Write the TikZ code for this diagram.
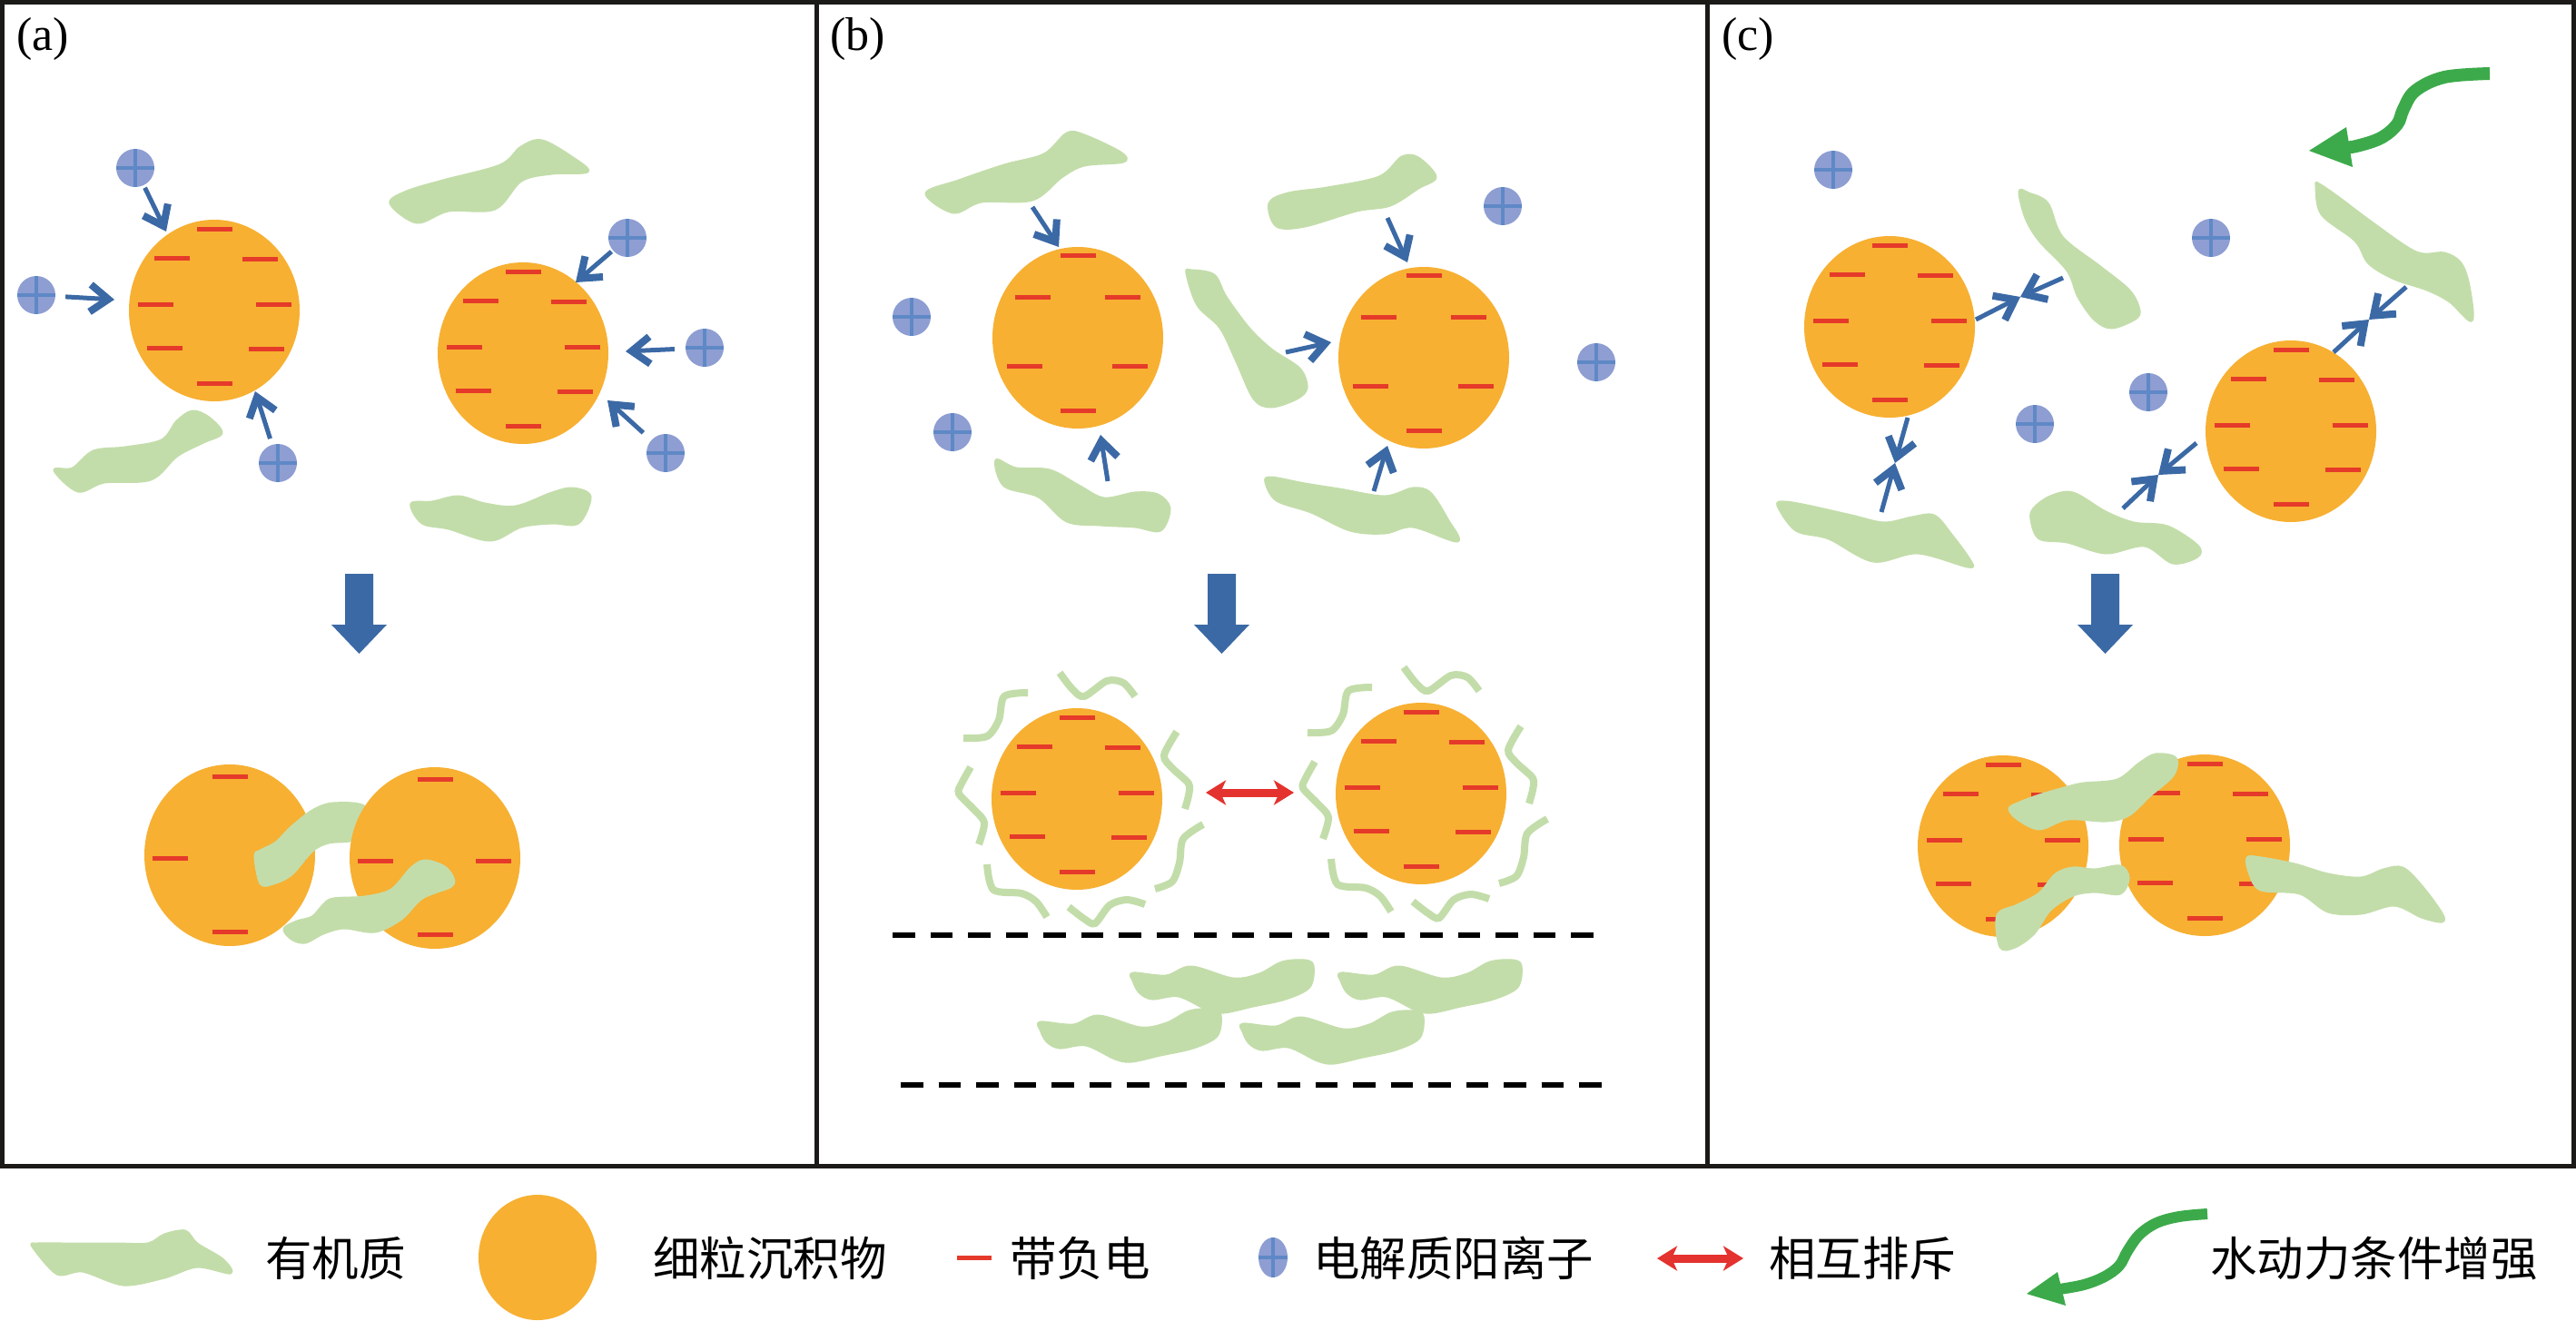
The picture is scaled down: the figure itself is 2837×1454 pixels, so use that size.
\documentclass[tikz,border=0pt]{standalone}
\usepackage{fontspec}
\setmainfont{Liberation Serif}
\newfontfamily\cjk{Noto Sans CJK SC}
\usetikzlibrary{arrows.meta,shapes.geometric}
\definecolor{orng}{HTML}{F7B032}
\definecolor{dashred}{HTML}{E53A2A}
\definecolor{orgreen}{HTML}{C3DDAA}
\definecolor{ionfill}{HTML}{8E9ED2}
\definecolor{ioncross}{HTML}{5F88C6}
\definecolor{arrblue}{HTML}{3B69A5}
\definecolor{flowgreen}{HTML}{3CAA4A}
\definecolor{repred}{HTML}{E4322E}
\definecolor{framec}{HTML}{1C1A18}
\tikzset{
  grain/.style={ellipse, fill=orng, minimum width=188pt, minimum height=200pt, inner sep=0pt},
  chg/.style={draw=dashred, line width=5pt},
  org/.style={fill=orgreen, draw=orgreen, line width=3pt, line join=round},
  wav/.style={draw=orgreen, line width=8pt},
  ion/.style={ellipse, fill=ionfill, minimum width=42pt, minimum height=42pt, inner sep=0pt,
    path picture={\draw[ioncross, line width=4pt]
      (path picture bounding box.north) -- (path picture bounding box.south)
      (path picture bounding box.west) -- (path picture bounding box.east);}},
  attract/.style={draw=arrblue, line width=5pt, -{Straight Barb[length=20pt,width=30pt,line width=8pt]}},
  repel/.style={draw=repred, line width=9pt, {Stealth[length=22pt,width=27pt,inset=6pt]}-{Stealth[length=22pt,width=27pt,inset=6pt]}},
  flow/.style={draw=flowgreen, line width=14pt},
  frame/.style={draw=framec, line width=5pt},
  sepline/.style={draw=black, line width=6pt, dash pattern=on 24.5pt off 17pt},
  panellabel/.style={anchor=west, inner sep=0pt, font=\fontsize{52}{52}\selectfont},
  legtext/.style={anchor=west, inner sep=0pt, font=\cjk\fontsize{51.5}{52}\selectfont}
}
\def\eightpos{0/-90,-47/-58,50/-57,-65/-7,65/-7,-55/41,57/42,0/80}
\def\sixpos{0/-91,-50/-45,49/-45,-59/31,57/31,0/80}
\def\fourpos{0/-87,-66/3,64/3,0/84}
\newcommand{\charges}[2]{\begin{scope}[shift={(#1)}]
  \foreach \dx/\dy in #2 {\draw[chg] (\dx-19.5,\dy) -- ++(39,0);}
\end{scope}}
\newcommand{\bigdown}[1]{\fill[arrblue] (#1-15.5,632) -- (#1+15.5,632) -- (#1+15.5,688) -- (#1+30.5,688)
  -- (#1,720) -- (#1-30.5,688) -- (#1-15.5,688) -- cycle;}
\newcommand{\wavyset}[1]{\begin{scope}[shift={(#1)}]
  \draw[wav] plot[smooth] coordinates {(-125,-67) (-99,-69) (-86,-87) (-80,-113) (-54,-117)};
  \draw[wav] plot[smooth] coordinates {(-19,-139) (-5,-121) (8,-113) (33,-130) (51,-128) (64,-113)};
  \draw[wav] plot[smooth] coordinates {(110,-74) (96,-48) (105,-34) (123,-17) (123,-4) (119,11)};
  \draw[wav] plot[smooth] coordinates {(-117,-35) (-127,-17) (-130,-6) (-114,11) (-102,26) (-108,50)};
  \draw[wav] plot[smooth] coordinates {(139,28) (117,44) (113,70) (105,91) (86,99)};
  \draw[wav] plot[smooth] coordinates {(-99,72) (-92,100) (-61,104) (-45,113) (-33,130)};
  \draw[wav] plot[smooth] coordinates {(-9,119) (8,132) (20,137) (36,117) (55,111) (75,116)};
\end{scope}}
\newcommand{\flatblob}[1]{\begin{scope}[shift={(#1)}]
  \fill[org] plot[smooth cycle, tension=0.55] coordinates {(2,14) (38,17) (66,7) (112,20) (141,15) (166,2) (191,0) (200,6) (196,29) (170,42) (134,50) (102,57) (84,54) (52,39) (23,42) (9,35) (2,22)};
\end{scope}}
\begin{document}
\begin{tikzpicture}[x=1pt, y=-1pt]
\useasboundingbox (0,0) rectangle (2837,1454);
\fill[white] (0,0) rectangle (2837,1454);

% ---------------- frames
\draw[frame] (2.5,2.5) rectangle (2834.5,1284);
\draw[frame] (899,2.5) -- (899,1284);
\draw[frame] (1880,2.5) -- (1880,1284);
\node[panellabel] (la) at (18,43) {(a)};
\node[panellabel] (lb) at (914,43) {(b)};
\node[panellabel] (lc) at (1896,43) {(c)};

% ================= panel (a)
\fill[org] plot[smooth cycle, tension=0.55] coordinates {(430,224) (459,245) (494,232) (545,230) (574,199) (608,191) (647,189) (631,174) (597,155) (574,162) (551,182) (488,199) (448,211)};
\fill[org] plot[smooth cycle, tension=0.55] coordinates {(60,518) (86,541) (115,531) (166,528) (195,502) (224,487) (244,477) (230,460) (212,453) (195,464) (178,485) (138,493) (103,497) (80,516)};
\fill[org] plot[smooth cycle, tension=0.55] coordinates {(453,555) (465,576) (494,582) (540,595) (574,580) (608,576) (637,576) (650,547) (631,538) (608,543) (568,558) (534,555) (505,547) (476,553)};
\node[grain] (A1) at (236,342) {};
\charges{A1}{\eightpos}
\node[grain] (A2) at (576,389) {};
\charges{A2}{\eightpos}
\node[ion] (ia1) at (149,185) {};
\node[ion] (ia2) at (40,325) {};
\node[ion] (ia3) at (306,510) {};
\node[ion] (ia4) at (691,262) {};
\node[ion] (ia5) at (776,383) {};
\node[ion] (ia6) at (733,499) {};
\coordinate (a1e) at (183,255);
\coordinate (a2e) at (126,330);
\coordinate (a3e) at (281,431);
\coordinate (a4e) at (634,311);
\coordinate (a5e) at (689,387);
\coordinate (a6e) at (669,441);
\draw[attract, shorten <=3pt] (ia1) -- (a1e);
\draw[attract, shorten <=11pt] (ia2) -- (a2e);
\draw[attract, shorten <=7pt] (ia3) -- (a3e);
\draw[attract, shorten <=2pt] (ia4) -- (a4e);
\draw[attract, shorten <=12pt] (ia5) -- (a5e);
\draw[attract, shorten <=12pt] (ia6) -- (a6e);
\bigdown{395.5}
\node[grain] (P1) at (253,942) {};
\charges{P1}{\fourpos}
\fill[org] plot[smooth cycle, tension=0.55] coordinates {(281,943) (287,973) (301,973) (321,963) (344,937) (362,928) (385,926) (396,919) (402,889) (367,885) (344,893) (321,911) (304,928) (287,937)};
\node[grain] (P2) at (479,945) {};
\charges{P2}{\fourpos}
\fill[org] plot[smooth cycle, tension=0.55] coordinates {(313,1023) (321,1034) (336,1038) (356,1028) (379,1022) (413,1026) (442,1012) (465,989) (497,976) (498,965) (488,954) (468,948) (453,956) (431,980) (402,988) (367,990) (356,997) (344,1010) (327,1015)};

% ================= panel (b)
\fill[org] plot[smooth cycle, tension=0.55] coordinates {(1020,213) (1050,234) (1081,222) (1137,220) (1169,195) (1194,182) (1237,178) (1234,168) (1194,149) (1175,147) (1150,170) (1106,182) (1056,199)};
\fill[org] plot[smooth cycle, tension=0.55] coordinates {(1398,224) (1406,249) (1437,249) (1494,232) (1531,226) (1562,207) (1581,195) (1562,174) (1544,173) (1519,195) (1462,207) (1419,213)};
\fill[org] plot[smooth cycle, tension=0.55] coordinates {(1307,301) (1319,336) (1344,361) (1362,398) (1381,439) (1400,448) (1428,439) (1439,427) (1431,406) (1400,385) (1375,361) (1350,327) (1337,303) (1312,298)};
\fill[org] plot[smooth cycle, tension=0.55] coordinates {(1097,507) (1106,535) (1144,547) (1175,574) (1212,578) (1250,580) (1278,584) (1288,560) (1275,545) (1250,543) (1216,549) (1188,535) (1156,518) (1119,516)};
\fill[org] plot[smooth cycle, tension=0.55] coordinates {(1394,531) (1406,551) (1444,564) (1487,584) (1525,587) (1556,580) (1605,596) (1594,572) (1575,543) (1556,538) (1525,547) (1475,539) (1437,533) (1400,526)};
\node[grain] (B1) at (1187,372) {};
\charges{B1}{\sixpos}
\node[grain] (B2) at (1568,394) {};
\charges{B2}{\sixpos}
\node[ion] (ib1) at (1004,349) {};
\node[ion] (ib2) at (1049,476) {};
\node[ion] (ib3) at (1655,227) {};
\node[ion] (ib4) at (1758,399) {};
\coordinate (b1s) at (1137,228); \coordinate (b1e) at (1166,272);
\coordinate (b2s) at (1220,530); \coordinate (b2e) at (1212,479);
\coordinate (b3s) at (1416,388); \coordinate (b3e) at (1466,377);
\coordinate (b4s) at (1528,240); \coordinate (b4e) at (1550,289);
\coordinate (b5s) at (1513,541); \coordinate (b5e) at (1528,491);
\draw[attract] (b1s) -- (b1e);
\draw[attract] (b2s) -- (b2e);
\draw[attract] (b3s) -- (b3e);
\draw[attract] (b4s) -- (b4e);
\draw[attract] (b5s) -- (b5e);
\bigdown{1345.5}
\node[grain] (BP1) at (1186,880) {};
\charges{BP1}{\eightpos}
\wavyset{BP1}
\node[grain] (BP2) at (1565,874) {};
\charges{BP2}{\eightpos}
\wavyset{BP2}
\coordinate (rpL) at (1328,873);
\coordinate (rpR) at (1425,873);
\draw[repel] (rpL) -- (rpR);
\coordinate (s1L) at (983,1030); \coordinate (s1R) at (1758,1030);
\coordinate (s2L) at (992,1195); \coordinate (s2R) at (1766,1195);
\draw[sepline] (s1L) -- (s1R);
\draw[sepline] (s2L) -- (s2R);
\flatblob{1246,1058}
\flatblob{1475,1058}
\flatblob{1144,1112}
\flatblob{1367,1114}

% ================= panel (c)
\fill[org] plot[smooth cycle, tension=0.55] coordinates {(2224,211) (2231,240) (2246,265) (2277,298) (2289,327) (2307,352) (2326,361) (2353,350) (2355,338) (2344,319) (2313,294) (2271,261) (2255,224) (2234,213)};
\fill[org] plot[smooth cycle, tension=0.55] coordinates {(2551,205) (2557,236) (2594,265) (2609,290) (2637,307) (2673,319) (2698,332) (2722,353) (2719,315) (2710,290) (2692,279) (2661,278) (2612,245) (2576,218) (2554,203)};
\fill[org] plot[smooth cycle, tension=0.55] coordinates {(1958,557) (1978,584) (2014,593) (2063,618) (2112,609) (2167,624) (2170,618) (2149,589) (2130,568) (2106,570) (2075,576) (2039,568) (1990,557) (1965,553)};
\fill[org] plot[smooth cycle, tension=0.55] coordinates {(2237,572) (2246,593) (2277,597) (2319,609) (2362,601) (2393,620) (2420,613) (2420,601) (2387,580) (2350,576) (2319,564) (2283,543) (2258,547) (2240,560)};
\node[grain] (C1) at (2081,360) {};
\charges{C1}{\eightpos}
\node[grain] (C2) at (2523,475) {};
\charges{C2}{\eightpos}
\node[ion] (ic1) at (2019,187) {};
\node[ion] (ic2) at (2435,262) {};
\node[ion] (ic3) at (2366,432) {};
\node[ion] (ic4) at (2241,467) {};
\coordinate (m1) at (2225,327); \coordinate (m1a) at (2176,352); \coordinate (m1b) at (2272,306);
\coordinate (m2) at (2087,510); \coordinate (m2a) at (2101,460); \coordinate (m2b) at (2072,564);
\coordinate (m3) at (2377,523); \coordinate (m3a) at (2419,488); \coordinate (m3b) at (2338,560);
\coordinate (m4) at (2609,352); \coordinate (m4a) at (2570,388); \coordinate (m4b) at (2650,316);
\foreach \m in {m1,m2,m3,m4} {
  \draw[attract] (\m a) -- (\m);
  \draw[attract] (\m b) -- (\m);
}
% hydrodynamic arrow
\coordinate (fw0) at (2742,81);
\coordinate (fwtip) at (2543,166);
\draw[flow] plot[smooth, tension=0.6] coordinates {(fw0) (2692,85) (2660,100) (2647,120) (2640,137) (2622,152) (2595,161) (2578,163)};
\fill[flowgreen] (fwtip) -- (2584,140) -- (2591,184) -- cycle;
\bigdown{2318.5}
\node[grain] (CP1) at (2206,932) {};
\charges{CP1}{\eightpos}
\node[grain] (CP2) at (2428,931) {};
\charges{CP2}{\eightpos}
\fill[org] plot[smooth cycle, tension=0.55] coordinates {(2213,891) (2222,902) (2246,913) (2277,902) (2319,904) (2344,898) (2368,876) (2393,854) (2396,835) (2374,831) (2356,841) (2332,859) (2295,863) (2277,867) (2246,876) (2222,885)};
\fill[org] plot[smooth cycle, tension=0.55] coordinates {(2200,1008) (2203,1043) (2219,1043) (2240,1028) (2258,1002) (2283,986) (2307,982) (2335,984) (2344,967) (2335,954) (2307,958) (2283,956) (2264,963) (2246,984) (2222,997)};
\fill[org] plot[smooth cycle, tension=0.55] coordinates {(2475,945) (2478,963) (2490,980) (2533,984) (2564,1004) (2600,1006) (2637,997) (2667,1010) (2689,1015) (2689,1006) (2667,976) (2646,956) (2625,958) (2600,967) (2564,963) (2527,952) (2490,945)};

% ================= legend
\fill[org] plot[smooth cycle, tension=0.5] coordinates {(36,1373) (63,1403) (91,1400) (136,1415) (181,1407) (217,1395) (254,1402) (245,1387) (217,1370) (204,1356) (181,1360) (163,1370) (127,1370) (72,1370) (41,1370)};
\node[legtext] (t1) at (292,1386) {有机质};
\node[ellipse, fill=orng, minimum width=130pt, minimum height=138pt, inner sep=0pt] (lg) at (592,1385) {};
\node[legtext] (t2) at (719,1386) {细粒沉积物};
\coordinate (ld1) at (1054,1385); \coordinate (ld2) at (1092,1385);
\draw[chg] (ld1) -- (ld2);
\node[legtext] (t3) at (1112,1386) {带负电};
\node[ion, minimum width=32pt, minimum height=44pt] (li) at (1402,1385) {};
\node[legtext] (t4) at (1446,1386) {电解质阳离子};
\coordinate (lr1) at (1825,1386); \coordinate (lr2) at (1920,1386);
\draw[repel] (lr1) -- (lr2);
\node[legtext] (t5) at (1948,1386) {相互排斥};
\coordinate (lf0) at (2431,1337);
\coordinate (lftip) at (2232,1425);
\draw[flow, line width=12pt] plot[smooth, tension=0.6] coordinates {(lf0) (2400,1340) (2375,1347) (2356,1360) (2343,1378) (2334,1394) (2318,1406) (2295,1415) (2268,1420)};
\fill[flowgreen] (lftip) -- (2266,1401) -- (2275,1438) -- cycle;
\node[legtext] (t6) at (2434,1386) {水动力条件增强};
\end{tikzpicture}
\end{document}
